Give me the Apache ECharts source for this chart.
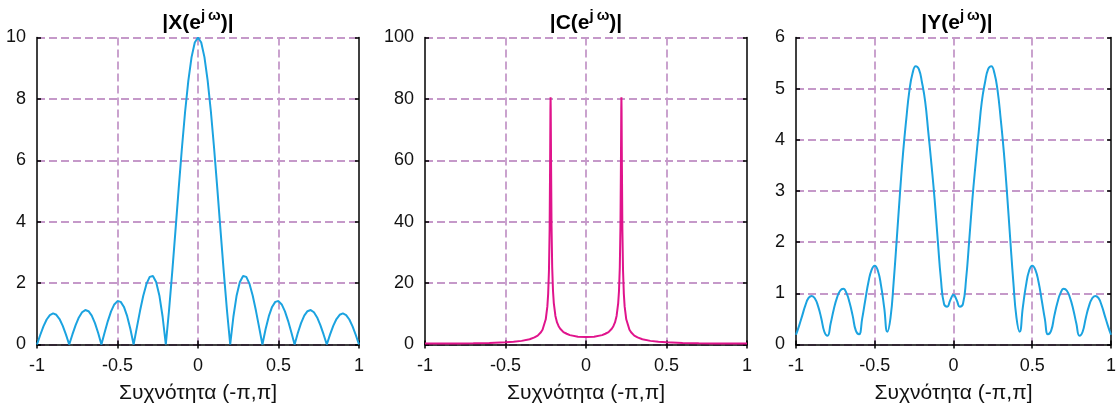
<!DOCTYPE html>
<html>
<head>
<meta charset="utf-8">
<script src="https://cdn.jsdelivr.net/npm/echarts@6/dist/echarts.min.js"></script>
<style>html,body{margin:0;padding:0;background:#fff}#c{width:1119px;height:409px}</style>
</head>
<body>
<div id="c"></div>
<script>
// ---- data ----
const freqGrid = [-1,-0.98,-0.96,-0.94,-0.92,-0.9,-0.88,-0.86,-0.84,-0.82,-0.8,-0.78,-0.76,-0.74,-0.72,-0.7,-0.68,-0.66,-0.64,-0.62,-0.6,-0.58,-0.56,-0.54,-0.52,-0.5,-0.48,-0.46,-0.44,-0.42,-0.4,-0.38,-0.36,-0.34,-0.32,-0.3,-0.28,-0.26,-0.24,-0.22,-0.2,-0.18,-0.16,-0.14,-0.12,-0.1,-0.08,-0.06,-0.04,-0.02,0,0.02,0.04,0.06,0.08,0.1,0.12,0.14,0.16,0.18,0.2,0.22,0.24,0.26,0.28,0.3,0.32,0.34,0.36,0.38,0.4,0.42,0.44,0.46,0.48,0.5,0.52,0.54,0.56,0.58,0.6,0.62,0.64,0.66,0.68,0.7,0.72,0.74,0.76,0.78,0.8,0.82,0.84,0.86,0.88,0.9,0.92,0.94,0.96,0.98,1];

const magX = [0,0.309,0.589,0.813,0.959,1.012,0.968,0.829,0.607,0.322,0,0.328,0.632,0.882,1.051,1.122,1.085,0.940,0.696,0.374,0,0.391,0.763,1.079,1.305,1.414,1.389,1.223,0.922,0.504,0,0.550,1.097,1.589,1.974,2.203,2.234,2.037,1.597,0.912,0,1.108,2.364,3.709,5.076,6.393,7.589,8.596,9.361,9.837,10,9.837,9.361,8.596,7.589,6.393,5.076,3.709,2.364,1.108,0,0.912,1.597,2.037,2.234,2.203,1.974,1.589,1.097,0.550,0,0.504,0.922,1.223,1.389,1.414,1.305,1.079,0.763,0.391,0,0.374,0.696,0.940,1.085,1.122,1.051,0.882,0.632,0.328,0,0.322,0.607,0.829,0.968,1.012,0.959,0.813,0.589,0.309,0];

const freqC = [-1,-0.9,-0.8,-0.7,-0.6,-0.5,-0.45,-0.4,-0.35,-0.32,-0.3,-0.28,-0.27,-0.25,-0.24,-0.235,-0.23,-0.226,-0.223,-0.221,-0.22,-0.219,-0.217,-0.214,-0.21,-0.205,-0.2,-0.19,-0.18,-0.17,-0.16,-0.14,-0.12,-0.1,-0.05,0,0.05,0.1,0.12,0.14,0.16,0.17,0.18,0.19,0.2,0.205,0.21,0.214,0.217,0.219,0.22,0.221,0.223,0.226,0.23,0.235,0.24,0.25,0.27,0.28,0.3,0.32,0.35,0.4,0.45,0.5,0.6,0.7,0.8,0.9,1];
const magC = [0.32,0.33,0.36,0.42,0.52,0.72,0.9,1.18,1.7,2.32,2.9,4.0,4.8,8.2,12.4,16.5,24.2,37.4,58.3,76.5,80.5,76.8,59,38.4,25.2,17.5,13.5,9.3,7.2,5.95,5.15,4.05,3.5,3.05,2.55,2.45,2.55,3.05,3.5,4.05,5.15,5.95,7.2,9.3,13.5,17.5,25.2,38.4,59,76.8,80.5,76.5,58.3,37.4,24.2,16.5,12.4,8.2,4.8,4.0,2.9,2.32,1.7,1.18,0.9,0.72,0.52,0.42,0.36,0.33,0.32];

const magY = [0.19,0.37,0.57,0.77,0.91,0.95,0.90,0.75,0.52,0.25,0.17,0.41,0.69,0.91,1.05,1.09,1.01,0.82,0.56,0.27,0.20,0.50,0.87,1.22,1.46,1.54,1.44,1.15,0.72,0.25,0.52,1.22,2.07,2.95,3.75,4.40,4.96,5.30,5.44,5.38,5.12,4.75,4.15,3.52,2.84,2.04,1.28,0.79,0.74,0.87,0.97,0.87,0.74,0.79,1.28,2.04,2.84,3.52,4.15,4.75,5.12,5.38,5.44,5.30,4.96,4.40,3.75,2.95,2.07,1.22,0.52,0.25,0.72,1.15,1.44,1.54,1.46,1.22,0.87,0.50,0.20,0.27,0.56,0.82,1.01,1.09,1.05,0.91,0.69,0.41,0.17,0.25,0.52,0.75,0.90,0.95,0.91,0.77,0.57,0.37,0.19];

const xTicks = {min: -1, max: 1, interval: 0.5};
const yMaxX = 10, yStepX = 2;
const yMaxC = 100, yStepC = 20;
const yMaxY = 6, yStepY = 1;
const titleX = '|X(e', titleC = '|C(e', titleY = '|Y(e';
const xName = 'Συχνότητα (-π,π]';

// ---- chart ----
const FONT = "'Liberation Sans', Arial, sans-serif";
const GRID_COLOR = '#c599c9';
const pair = (xs, ys) => xs.map((x, i) => [x, ys[i]]);

const panels = [
  {left: 37, title: titleX, yMax: yMaxX, yStep: yStepX, data: pair(freqGrid, magX), color: '#1ba3e0', smooth: false},
  {left: 425, title: titleC, yMax: yMaxC, yStep: yStepC, data: pair(freqC, magC), color: '#e0148c', smooth: false},
  {left: 796, title: titleY, yMax: yMaxY, yStep: yStepY, data: pair(freqGrid, magY), color: '#1ba3e0', smooth: true}
];
const W = 322, TOP = 37.5, H = 307;

const grid = [], xAxis = [], yAxis = [], series = [], graphic = [];
panels.forEach((p, i) => {
  grid.push({left: p.left, top: TOP, width: W, height: H, containLabel: false});
  const splitDash = {show: true, lineStyle: {color: GRID_COLOR, width: 1.8, type: [8, 4]}};
  xAxis.push({
    type: 'value', gridIndex: i, min: xTicks.min, max: xTicks.max, interval: xTicks.interval,
    position: 'bottom',
    axisLine: {show: true, onZero: false, lineStyle: {color: '#000', width: 1.5}},
    axisTick: {show: true, inside: true, length: 4, lineStyle: {color: '#000', width: 1.5}},
    axisLabel: {show: true, margin: 13, fontSize: 18, color: '#111', fontFamily: FONT,
      formatter: v => String(v)},
    splitLine: Object.assign({showMinLine: false, showMaxLine: false}, splitDash),
    name: xName, nameLocation: 'middle', nameGap: 38,
    nameTextStyle: {fontSize: 21, color: '#111', fontFamily: FONT}
  });
  xAxis.push({
    type: 'value', gridIndex: i, min: xTicks.min, max: xTicks.max, interval: xTicks.interval,
    position: 'top',
    axisLine: {show: false},
    axisTick: {show: true, inside: true, length: 4, lineStyle: {color: '#000', width: 1.5}},
    axisLabel: {show: false}, splitLine: {show: false}
  });
  yAxis.push({
    type: 'value', gridIndex: i, min: 0, max: p.yMax, interval: p.yStep, position: 'left',
    axisLine: {show: true, onZero: false, lineStyle: {color: '#000', width: 1.5}},
    axisTick: {show: true, inside: true, length: 4, lineStyle: {color: '#000', width: 1.5}},
    axisLabel: {show: true, margin: 11, fontSize: 18, color: '#111', fontFamily: FONT},
    splitLine: splitDash
  });
  yAxis.push({
    type: 'value', gridIndex: i, min: 0, max: p.yMax, interval: p.yStep, position: 'right',
    axisLine: {show: true, onZero: false, lineStyle: {color: '#000', width: 1.5}},
    axisTick: {show: true, inside: true, length: 4, lineStyle: {color: '#000', width: 1.5}},
    axisLabel: {show: false}, splitLine: {show: false}
  });
  series.push({
    type: 'line', xAxisIndex: 2 * i, yAxisIndex: 2 * i, data: p.data,
    showSymbol: false, smooth: p.smooth, animation: false, z: 5,
    lineStyle: {color: p.color, width: 2}
  });
  graphic.push({
    type: 'text', x: p.left + W / 2, y: 23, z: 10,
    style: {
      text: '{a|' + p.title + '}{b|j}{c|ω}{a|)|}',
      align: 'center', verticalAlign: 'middle', textAlign: 'center', textVerticalAlign: 'middle',
      rich: {
        a: {fontSize: 21, fontWeight: 'bold', fontFamily: FONT, color: '#000', lineHeight: 30, verticalAlign: 'middle'},
        b: {fontSize: 15, fontWeight: 'bold', fontFamily: FONT, color: '#000', lineHeight: 15, verticalAlign: 'top'},
        c: {fontSize: 15, fontWeight: 'bold', fontFamily: FONT, color: '#000', lineHeight: 15, verticalAlign: 'top', padding: [0, 0, 0, 3]}
      }
    }
  });
});

const chart = echarts.init(document.getElementById('c'), null, {renderer: 'canvas'});
chart.setOption({animation: false, backgroundColor: '#fff', grid, xAxis, yAxis, series, graphic});
</script>
</body>
</html>
